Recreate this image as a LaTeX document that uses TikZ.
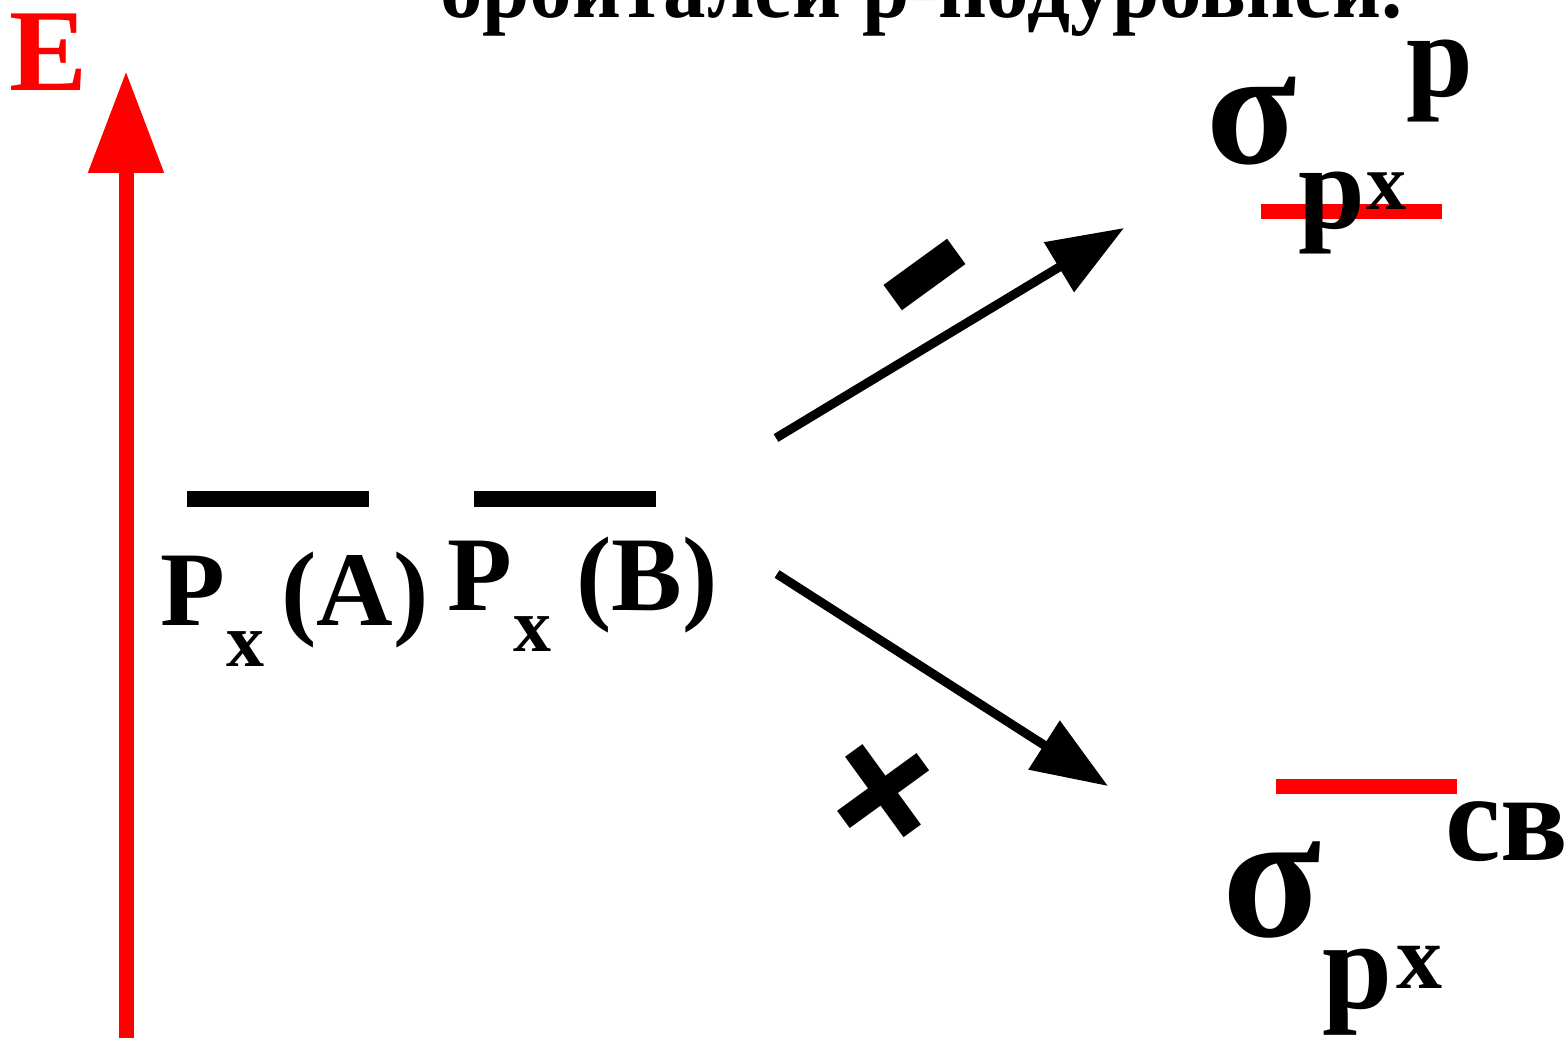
\documentclass[tikz,border=0pt]{standalone}
\usepackage{fontspec}
\setmainfont{Liberation Serif}
\newfontfamily\sansb{Liberation Sans}
\usetikzlibrary{arrows.meta}
\newcommand{\myfs}[1]{\fontsize{#1}{#1}\selectfont}
\tikzset{
  lbl/.style={inner sep=0pt, anchor=base west, font=\bfseries},
  lvlblack/.style={line width=16pt, black},
  lvlred/.style={line width=15pt, red},
  conn/.style={line width=9pt, black, -{Triangle[length=76pt,width=56pt]}},
  axis/.style={line width=15pt, red, -{Triangle[length=102pt,width=72pt]}},
  sign/.style={inner sep=0pt, rotate=36, font=\bfseries},
}
\begin{document}
\begin{tikzpicture}[x=1pt,y=-1pt]
\useasboundingbox (0,0) rectangle (1567,1038);
% title (cut at top)
\node[lbl, xscale=0.965] (title) at (440,18) {\myfs{88}орбиталей р-подуровней.};
% energy axis
\coordinate (ebot) at (126,1045);
\coordinate (etop) at (126,71);
\draw[axis] (ebot) -- (etop);
\node[lbl, text=red] (elbl) at (9,91) {\myfs{117}E};
% atomic levels
\draw[lvlblack] (187,499) -- (369,499);
\draw[lvlblack] (474,499) -- (656,499);
\node[lbl] (pa) at (160,625) {\myfs{106}P};
\node[lbl] (pax) at (226,666) {\myfs{76}x};
\node[lbl] (paa) at (281,625) {\myfs{106}(A)};
\node[lbl] (pb) at (447,610) {\myfs{106}P};
\node[lbl] (pbx) at (513,651) {\myfs{76}x};
\node[lbl] (pbb) at (576,610) {\myfs{106}(B)};
% molecular levels
\draw[lvlred] (1261,211.5) -- (1442,211.5);
\draw[lvlred] (1276,786) -- (1457,786);
% antibonding label
\node[lbl] (s1) at (1206,164) {\myfs{166}σ};
\node[lbl] (s1p) at (1406,97) {\myfs{120}p};
\node[lbl] (s1sub) at (1298,229) {\myfs{120}p};
\node[lbl] (s1x) at (1366,210) {\myfs{80}x};
% bonding label
\node[lbl] (s2) at (1222,936) {\myfs{182}σ};
\node[lbl] (s2cb) at (1445,860) {\myfs{125}св};
\node[lbl] (s2sub) at (1322,1008) {\myfs{126}p};
\node[lbl] (s2x) at (1396,988) {\myfs{92}x};
% connectors
\coordinate (a1s) at (776,438);
\coordinate (a1e) at (1124,228);
\coordinate (a2s) at (777,574);
\coordinate (a2e) at (1108,786);
\draw[conn] (a1s) -- (a1e);
\draw[conn] (a2s) -- (a2e);
% signs
\node[sign, yscale=0.85] (minus) at (941,296) {\sansb\myfs{310}-};
\node[sign] (plus) at (888,797) {\sansb\myfs{196}+};
\end{tikzpicture}
\end{document}
